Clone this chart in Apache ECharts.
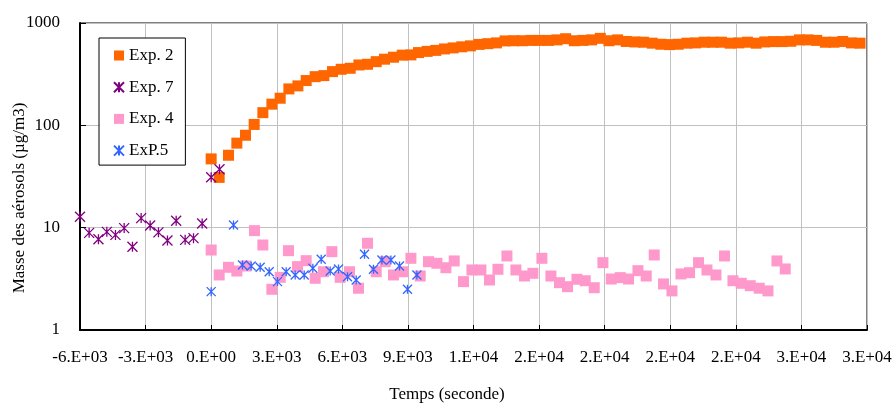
<!DOCTYPE html>
<html>
<head>
<meta charset="utf-8">
<script src="https://cdn.jsdelivr.net/npm/echarts@6/dist/echarts.min.js"></script>
<style>
html,body{margin:0;padding:0;background:#fff;}
#chart{width:893px;height:405px;}
</style>
</head>
<body>
<div id="chart"></div>
<script>
var seriesNames = ['Exp. 2', 'Exp. 7', 'Exp. 4', 'ExP.5'];
var xTitle = 'Temps (seconde)';
var yTitle = 'Masse des aérosols (µg/m3)';

var exp2Time = [0,366,793,1175,1570,1967,2365,2777,3157,3555,3967,4346,4758,5155,5550,5947,6359,6757,7151,7549,7929,8341,8739,9137,9484,9880,10276,10672,11068,11464,11860,12256,12652,13048,13444,13840,14236,14632,15028,15424,15820,16216,16612,17008,17404,17800,18196,18592,18988,19384,19780,20176,20572,20968,21364,21760,22156,22552,22948,23344,23740,24136,24532,24928,25324,25720,26116,26512,26908,27304,27700,28096,28492,28888,29284,29680];
var exp2Mass = [47,31,51,67,80,102,133,161,184,227,243,274,299,306,335,353,361,389,395,419,443,463,485,488,514,528,540,558,571,585,598,618,628,639,668,671,671,676,676,676,684,702,671,676,684,708,671,684,660,653,649,635,620,615,620,635,639,649,649,649,635,639,649,635,653,658,658,663,684,684,676,649,649,660,639,635];

var exp7Time = [-6000,-5582,-5156,-4772,-4378,-3980,-3600,-3203,-2791,-2411,-2000,-1601,-1190,-808,-412,0,381];
var exp7Mass = [12.8,8.9,7.7,9.1,8.5,9.9,6.5,12.4,10.5,9.0,7.5,11.7,7.6,7.9,11.0,31.1,37.2];

var exp4Time = [0,366,793,1175,1587,1983,2365,2777,3157,3537,3950,4346,4758,5138,5522,5902,6328,6740,7151,7549,7960,8341,8771,9137,9562,9942,10326,10738,11118,11543,11928,12339,12733,13117,13529,13940,14333,14717,15129,15541,15935,16301,16730,17111,17523,17920,18300,18712,19092,19522,19901,20267,20693,21078,21490,21883,22295,22679,23091,23483,23868,24248,24659,25071,25469,25881,26260];
var exp4Mass = [6.05,3.45,4.10,3.77,4.22,9.35,6.77,2.50,3.27,5.96,4.16,4.76,3.20,3.71,5.83,3.27,3.71,2.56,7.04,3.71,4.65,3.45,3.71,5.02,3.37,4.65,4.49,4.06,4.73,2.97,3.86,3.86,3.08,3.92,5.29,3.86,3.37,3.58,5.02,3.37,2.90,2.65,3.13,3.03,2.59,4.55,3.15,3.25,3.15,3.80,3.37,5.41,2.82,2.41,3.53,3.63,4.55,3.86,3.45,5.29,3.03,2.86,2.71,2.56,2.41,4.73,3.95];

var exp5Time = [0,1022,1433,1830,2242,2654,3035,3431,3843,4255,4651,5033,5444,5825,6237,6634,7014,7426,7810,8222,8616,8981,9411];
var exp5Mass = [2.37,10.6,4.32,4.22,4.10,3.71,2.97,3.71,3.45,3.45,4.01,4.91,3.77,3.95,3.32,3.08,5.50,3.92,4.83,4.83,4.22,2.50,3.45];

var xMin = -6000, xMax = 30000, xStep = 3000;
var yMin = 1, yMax = 1000;

function pairs(xs, ys) { return xs.map(function (x, i) { return [x, ys[i]]; }); }
function sciLabel(v) {
  if (v === 0) return '0.E+00';
  var e = Math.floor(Math.log10(Math.abs(v)) + 1e-9);
  var m = Math.round(v / Math.pow(10, e));
  if (Math.abs(m) >= 10) { m = m / 10; e += 1; }
  return m + '.E+' + (e < 10 ? '0' + e : e);
}

var FONT = '"Liberation Serif", "Times New Roman", serif';
var STAR = 'path://M0 0L10 10M10 0L0 10M5 0L5 10';

var chart = echarts.init(document.getElementById('chart'), null, { renderer: 'canvas' });
chart.setOption({
  animation: false,
  backgroundColor: '#ffffff',
  textStyle: { fontFamily: FONT },
  grid: {
    left: 80, right: 26, top: 23, bottom: 75,
    show: true, borderColor: '#000', borderWidth: 1,
    containLabel: false, outerBoundsMode: 'none'
  },
  legend: {
    orient: 'vertical',
    left: 99, top: 38,
    padding: [9, 12, 6, 14],
    itemWidth: 10, itemHeight: 10,
    itemGap: 14.7,
    backgroundColor: '#fff',
    borderColor: '#000', borderWidth: 1, borderRadius: 0,
    textStyle: { fontFamily: FONT, fontSize: 17, color: '#000' },
    data: seriesNames
  },
  graphic: [
    { type: 'text', x: 447, y: 395, style: { text: xTitle, font: '17px ' + FONT, fill: '#000', align: 'center', verticalAlign: 'middle' } },
    { type: 'text', x: 20, y: 198, rotation: Math.PI / 2, style: { text: yTitle, font: '17px ' + FONT, fill: '#000', align: 'center', verticalAlign: 'middle' } }
  ],
  xAxis: {
    type: 'value', min: xMin, max: xMax, interval: xStep,
    axisLine: { show: true, onZero: false, lineStyle: { color: '#000', width: 2 } },
    axisTick: { show: true, inside: true, length: 5, lineStyle: { color: '#000', width: 1 } },
    axisLabel: { formatter: sciLabel, fontFamily: FONT, fontSize: 17, color: '#000', margin: 19, hideOverlap: false },
    splitLine: { show: true, lineStyle: { color: '#c0c0c0', width: 1 } }
  },
  yAxis: {
    type: 'log', logBase: 10, min: yMin, max: yMax,
    axisLine: { show: true, onZero: false, lineStyle: { color: '#000', width: 2 } },
    axisTick: { show: true, inside: true, length: 6, lineStyle: { color: '#000', width: 1 } },
    axisLabel: { formatter: function (v) { return String(Math.round(v)); }, fontFamily: FONT, fontSize: 17, color: '#000', margin: 20 },
    splitLine: { show: true, lineStyle: { color: '#c0c0c0', width: 1 } },
    minorTick: { show: false }
  },
  series: [
    { name: seriesNames[0], type: 'scatter', symbol: 'rect', symbolSize: 11,
      itemStyle: { color: '#FF6600', opacity: 1 }, data: pairs(exp2Time, exp2Mass) },
    { name: seriesNames[1], type: 'scatter', symbol: STAR, symbolSize: 10,
      itemStyle: { color: 'rgba(0,0,0,0)', borderColor: '#800080', borderWidth: 1.3, opacity: 1 }, data: pairs(exp7Time, exp7Mass) },
    { name: seriesNames[2], type: 'scatter', symbol: 'rect', symbolSize: 11,
      itemStyle: { color: '#FF99CC', opacity: 1 }, data: pairs(exp4Time, exp4Mass) },
    { name: seriesNames[3], type: 'scatter', symbol: STAR, symbolSize: 9,
      itemStyle: { color: 'rgba(0,0,0,0)', borderColor: '#3366FF', borderWidth: 1.3, opacity: 1 }, data: pairs(exp5Time, exp5Mass) }
  ]
});
</script>
</body>
</html>
